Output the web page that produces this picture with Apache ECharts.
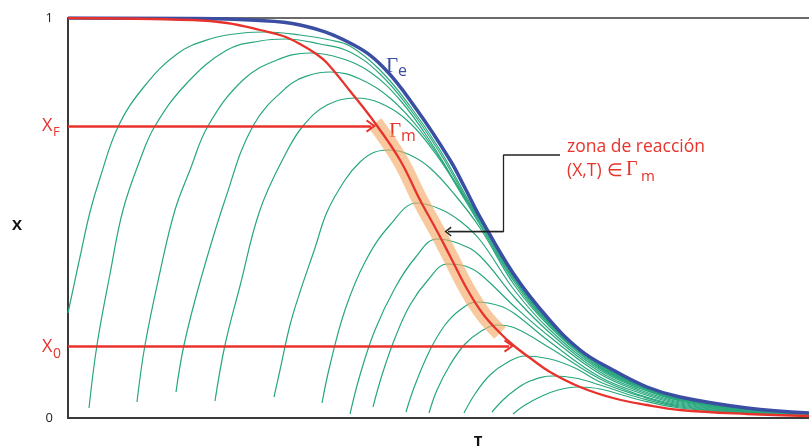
<!DOCTYPE html>
<html><head><meta charset="utf-8">
<script src="https://cdn.jsdelivr.net/npm/echarts@6/dist/echarts.min.js"></script>
<style>html,body{margin:0;padding:0;background:#fff}#c{width:809px;height:448px}</style>
</head><body><div id="c"></div><script>
// ---- data (T in arbitrary temperature units 0..741, X conversion 0..1) ----
const T_MAX = 741;
const yTicks = [0, 1];
const xF = 0.73;
const x0 = 0.18;
const arrowEndF = 303;   // T where X_F arrow meets Gamma_m
const arrowEnd0 = 441;   // T where X_0 arrow meets Gamma_m
const bandFrom = 306, bandTo = 432; // reaction zone along Gamma_m
const callout = [[492,0.6575],[435.5,0.6575],[435.5,0.466],[380,0.466]];

const gammaE = [[0,1],[132,0.999],[182,0.995],[232,0.9825],[282,0.9375],[315,0.8775],[349,0.77],[382,0.645],[397,0.575],[412,0.5025],[445,0.3625],[479,0.2525],[512,0.17],[545,0.12],[579,0.0775],[612,0.0525],[679,0.025],[741,0.0125]];
const gammaM = [[0,1],[125,0.995],[159,0.9875],[192,0.97],[215,0.955],[232,0.935],[249,0.90875],[259,0.8875],[282,0.8175],[307,0.7375],[332,0.645],[352,0.545],[369,0.4675],[382,0.405],[399,0.3225],[415,0.26],[432,0.2125],[445,0.1825],[462,0.15],[482,0.115],[512,0.0775],[545,0.05],[579,0.0325],[612,0.02],[679,0.01],[741,0.005]];

const curveA = [[0,0.2625],[12,0.4025],[22,0.515],[32,0.6],[50,0.7275],[75,0.825],[109,0.91],[142,0.9475],[175,0.9625],[197,0.965],[232,0.9575],[262,0.945],[282,0.93],[312,0.87],[342,0.78],[372,0.67],[402,0.5375],[412,0.4975],[447,0.3525],[482,0.2425],[532,0.136],[572,0.084],[612,0.05],[682,0.0225],[741,0.0113]];
const curveB = [[21,0.025],[29,0.1825],[42,0.36],[55,0.52],[72,0.645],[87,0.73],[119,0.8375],[159,0.92],[192,0.9425],[217,0.9475],[252,0.935],[282,0.915],[312,0.86],[342,0.7725],[372,0.6625],[402,0.5325],[412,0.495],[447,0.35],[482,0.24],[532,0.134],[572,0.0825],[612,0.0488],[682,0.0218],[741,0.011]];
const curveC = [[69,0.04],[77,0.1825],[92,0.365],[107,0.52],[122,0.62],[140,0.73],[175,0.845],[209,0.895],[242,0.9125],[272,0.9],[302,0.865],[332,0.795],[362,0.6925],[392,0.57],[412,0.4925],[447,0.346],[482,0.2375],[532,0.131],[572,0.081],[612,0.0475],[682,0.021],[741,0.0108]];
const curveD = [[108,0.065],[116,0.1825],[132,0.34],[157,0.545],[185,0.73],[219,0.8275],[242,0.8575],[262,0.865],[292,0.8475],[322,0.8],[352,0.72],[382,0.61],[412,0.4875],[447,0.3425],[482,0.235],[532,0.129],[572,0.08],[612,0.0463],[682,0.02],[741,0.0105]];
const curveE = [[147,0.0425],[157,0.1825],[172,0.33],[192,0.52],[217,0.6575],[235,0.73],[259,0.7825],[287,0.8],[312,0.7875],[342,0.7375],[372,0.645],[397,0.545],[412,0.4825],[447,0.3375],[482,0.2313],[532,0.1263],[572,0.0788],[612,0.045],[682,0.0193],[741,0.0103]];
const curveF = [[206,0.0525],[212,0.12],[222,0.2325],[232,0.315],[247,0.425],[259,0.515],[277,0.595],[292,0.64],[307,0.665],[322,0.67],[342,0.6575],[362,0.625],[387,0.5575],[412,0.475],[447,0.33],[482,0.2275],[532,0.1238],[572,0.0763],[612,0.0438],[682,0.0185],[741,0.01]];
const curveG = [[254,0.0375],[262,0.1325],[277,0.27],[297,0.39],[322,0.4825],[349,0.5375],[372,0.5225],[392,0.4925],[412,0.445],[447,0.3175],[482,0.22],[532,0.12],[572,0.0738],[612,0.0425],[682,0.0175],[741,0.0098]];
const curveH = [[282,0.01],[292,0.1075],[307,0.22],[327,0.325],[347,0.4],[369,0.4475],[392,0.435],[412,0.405],[447,0.3],[482,0.2125],[532,0.115],[572,0.07],[612,0.04],[682,0.0168],[741,0.0095]];
const curveI = [[305,0.0275],[314,0.1075],[327,0.2],[342,0.2825],[360,0.345],[379,0.385],[397,0.38],[412,0.36],[447,0.2775],[482,0.2025],[532,0.11],[572,0.0663],[612,0.0375],[682,0.016],[741,0.0093]];
const curveJ = [[338,0.015],[347,0.0825],[362,0.17],[377,0.2325],[392,0.27],[409,0.29],[432,0.28],[447,0.26],[482,0.19],[532,0.1025],[572,0.0625],[612,0.035],[682,0.015],[741,0.009]];
const curveK = [[361,0.0125],[369,0.07],[382,0.1325],[397,0.185],[412,0.215],[429,0.2325],[447,0.225],[482,0.175],[532,0.0975],[572,0.0575],[612,0.0325],[682,0.0143],[741,0.0088]];
const curveL = [[396,0.0125],[407,0.06],[422,0.1075],[440,0.14],[457,0.155],[482,0.1475],[507,0.125],[532,0.09],[572,0.055],[612,0.03],[682,0.0135],[741,0.0085]];
const curveM = [[424,0.015],[435,0.045],[447,0.07],[462,0.0925],[485,0.105],[507,0.1],[532,0.0825],[572,0.05],[612,0.0275],[682,0.0125],[741,0.008]];
const curveN = [[445,0.01],[457,0.0325],[472,0.0525],[490,0.07],[510,0.0775],[532,0.0725],[572,0.045],[612,0.025],[682,0.012],[741,0.008]];
const greenCurves = [curveA,curveB,curveC,curveD,curveE,curveF,curveG,curveH,curveI,curveJ,curveK,curveL,curveM,curveN];

// ---- styles ----
const GREEN = '#27a77d', BLUE = '#3a4ea3', RED = '#e8322c', AXIS = '#3a3a3a';
const FONT = '"Open Sans", Lato, sans-serif';
const SERIF = '"Liberation Serif", "DejaVu Serif", serif';
const CHEV = 'path://M0,9 L5,0 L10,9 L8.6,10 L5,3.2 L1.4,10 Z';
const SM = 0.4;

const chart = echarts.init(document.getElementById('c'), null, {renderer:'canvas'});
const series = [];
greenCurves.forEach(d => series.push({type:'line', data:d, smooth:SM, showSymbol:false, silent:true, z:2,
  lineStyle:{color:GREEN, width:1.2}}));
series.push({type:'line', data:gammaM.filter(p => p[0] >= bandFrom && p[0] <= bandTo), smooth:SM, showSymbol:false, silent:true, z:3,
  lineStyle:{color:'rgba(243,168,98,0.62)', width:16, cap:'butt'}});
series.push({type:'line', data:gammaE, smooth:SM, showSymbol:false, silent:true, z:4,
  lineStyle:{color:BLUE, width:3.5}});
series.push({type:'line', data:gammaM, smooth:SM, showSymbol:false, silent:true, z:5,
  lineStyle:{color:RED, width:2.3}});
series.push({type:'line', data:[], silent:true, z:6,
  markLine:{silent:true, animation:false, symbol:['none', CHEV], symbolSize:[13,10],
    lineStyle:{color:RED, width:2.5, type:'solid'}, label:{show:false},
    data:[[{coord:[0,xF]},{coord:[arrowEndF,xF]}],[{coord:[0,x0]},{coord:[arrowEnd0,x0]}]]}});
series.push({type:'line', data:callout, showSymbol:false, silent:true, z:6, smooth:false,
  lineStyle:{color:'#222', width:1.3},
  markLine:{silent:true, animation:false, symbol:['none', CHEV], symbolSize:[10,7],
    lineStyle:{color:'#222', width:1.3, type:'solid'}, label:{show:false},
    data:[[{coord:callout[2]},{coord:callout[3]}]]}});

chart.setOption({
  animation:false,
  backgroundColor:'#fff',
  grid:{left:68, right:0, top:18, bottom:30},
  xAxis:[
    {type:'value', min:0, max:T_MAX, axisLine:{show:true, lineStyle:{color:AXIS, width:2}}, axisTick:{show:false}, axisLabel:{show:false}, splitLine:{show:false}},
    {type:'value', position:'top', min:0, max:T_MAX, axisLine:{show:true, lineStyle:{color:AXIS, width:1.5}}, axisTick:{show:false}, axisLabel:{show:false}, splitLine:{show:false}}
  ],
  yAxis:{type:'value', min:yTicks[0], max:yTicks[1], interval:1,
    axisLine:{show:true, lineStyle:{color:AXIS, width:2}}, axisTick:{show:false}, splitLine:{show:false},
    axisLabel:{margin:15, color:'#222', fontSize:13, fontFamily:FONT}},
  series:series,
  graphic:[
    {type:'text', x:17, y:226, style:{text:'X', font:'bold 15px '+FONT, fill:'#111', textAlign:'center', textVerticalAlign:'middle'}},
    {type:'text', x:478, y:442, style:{text:'T', font:'bold 15px '+FONT, fill:'#111', textAlign:'center', textVerticalAlign:'middle'}},
    {type:'text', x:42, y:117, style:{text:'X', font:'18px '+FONT, fill:RED}},
    {type:'text', x:53, y:126, style:{text:'F', font:'13px '+FONT, fill:RED}},
    {type:'text', x:42, y:338, style:{text:'X', font:'18px '+FONT, fill:RED}},
    {type:'text', x:53, y:347, style:{text:'0', font:'14px '+FONT, fill:RED}},
    {type:'text', x:386, y:56, style:{text:'\u0393', font:'21px '+SERIF, fill:BLUE}},
    {type:'text', x:398, y:63, style:{text:'e', font:'16px '+FONT, fill:BLUE}},
    {type:'text', x:389, y:121, style:{text:'\u0393', font:'21px '+SERIF, fill:RED}},
    {type:'text', x:401, y:128, style:{text:'m', font:'16px '+FONT, fill:RED}},
    {type:'text', x:567, y:138, style:{text:'zona de reacci\u00f3n', font:'17.5px '+FONT, fill:RED}},
    {type:'text', x:567, y:162, style:{text:'(X,T)', font:'17.5px '+FONT, fill:RED}},
    {type:'text', x:607, y:162, style:{text:'\u2208', font:'17.5px '+FONT, fill:RED}},
    {type:'text', x:626, y:160, style:{text:'\u0393', font:'20px '+SERIF, fill:RED}},
    {type:'text', x:641, y:169, style:{text:'m', font:'15px '+FONT, fill:RED}}
  ]
});
</script></body></html>
